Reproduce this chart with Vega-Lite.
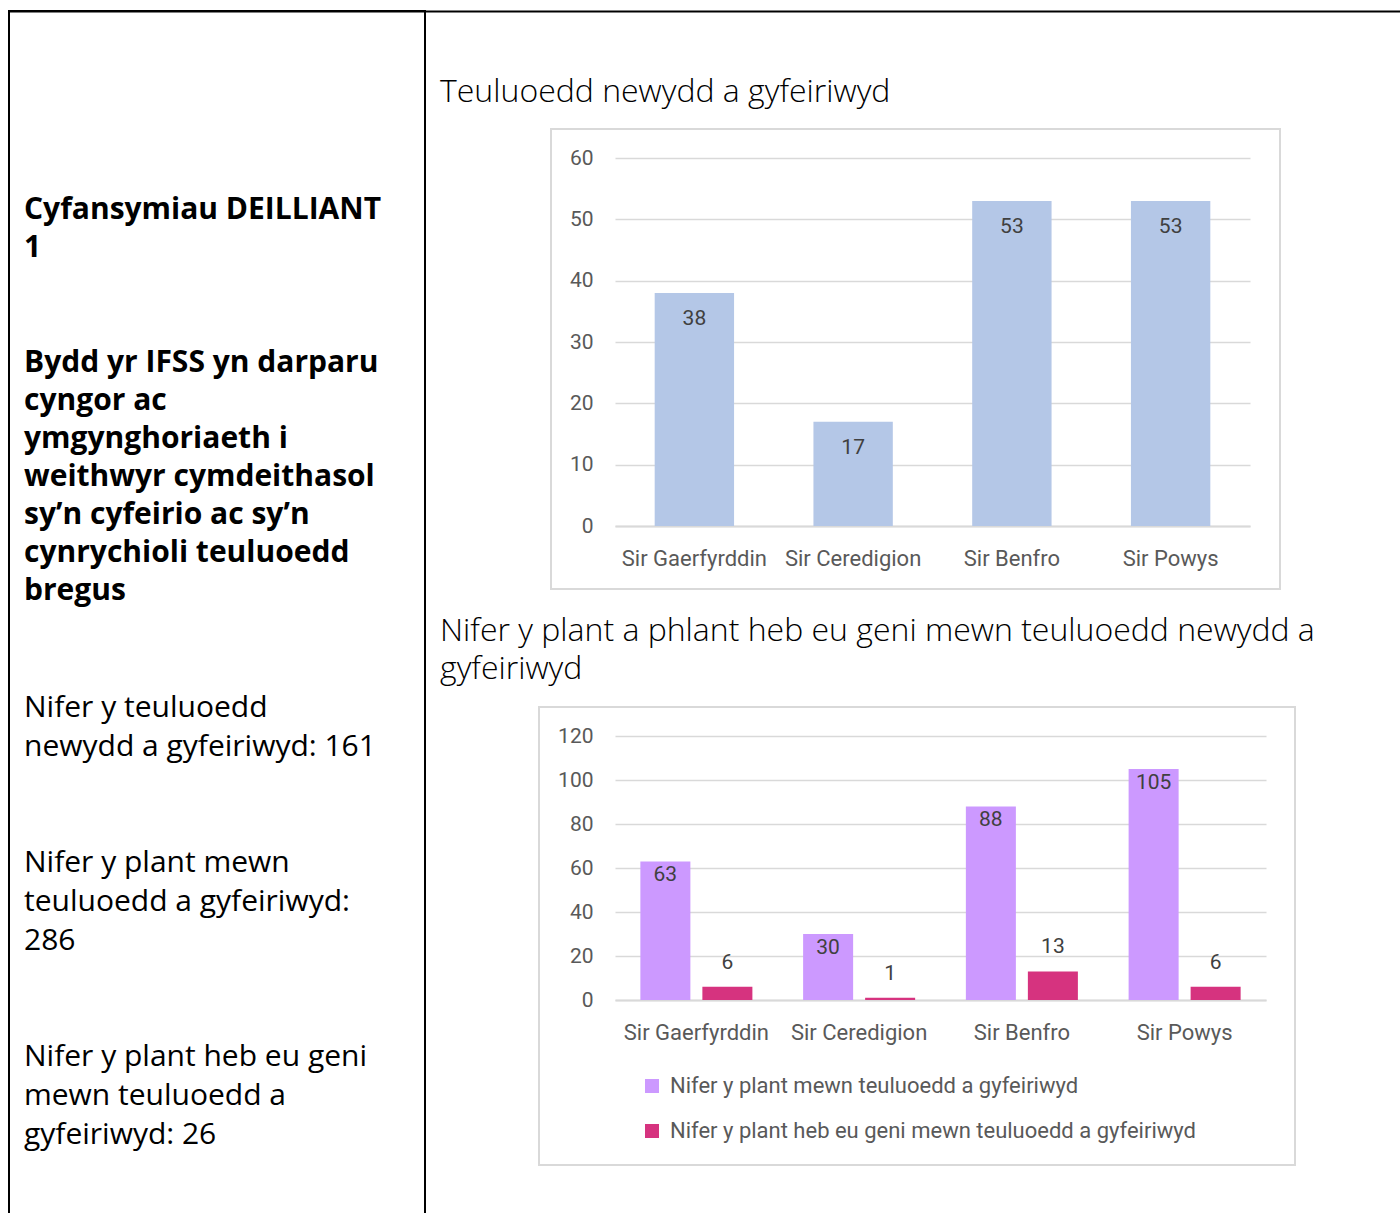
{
  "$schema": "https://vega.github.io/schema/vega-lite/v6.json",
  "padding": {"left": 8, "top": 10, "right": -1, "bottom": -2},
  "background": "white",
  "bounds": "flush",
  "spacing": 114,
  "config": {"view": {"stroke": null}},
  "hconcat": [
    {
      "width": 416,
      "height": 1203,
      "view": {"stroke": "black", "strokeWidth": 2},
      "title": {
        "text": ["Cyfansymiau DEILLIANT", "1", "\u2800", "\u2800", "Bydd yr IFSS yn darparu", "cyngor ac", "ymgynghoriaeth i", "weithwyr cymdeithasol", "sy’n cyfeirio ac sy’n", "cynrychioli teuluoedd", "bregus"],
        "subtitle": ["Nifer y teuluoedd", "newydd a gyfeiriwyd: 161", "\u2800", "\u2800", "Nifer y plant mewn", "teuluoedd a gyfeiriwyd:", "286", "\u2800", "\u2800", "Nifer y plant heb eu geni", "mewn teuluoedd a", "gyfeiriwyd: 26"],
        "anchor": "start",
        "frame": "group",
        "dx": 15,
        "dy": 1139,
        "offset": 0,
        "font": "Open Sans",
        "fontSize": 30,
        "fontWeight": "bold",
        "lineHeight": 38.1,
        "color": "black",
        "subtitleFont": "Open Sans",
        "subtitleFontSize": 30,
        "subtitleFontWeight": "normal",
        "subtitleLineHeight": 38.8,
        "subtitleColor": "black",
        "subtitlePadding": 87
      },
      "data": {"values": [{}]},
      "mark": {"type": "text"},
      "encoding": {
        "x": {
          "datum": 0,
          "type": "quantitative",
          "scale": {"domain": [0, 1], "range": [0, 1391]},
          "axis": {"orient": "top", "domainColor": "black", "domainWidth": 2, "labels": false, "ticks": false, "grid": false, "title": null}
        },
        "text": {"value": ""}
      }
    },
    {
      "spacing": 24,
      "vconcat": [
        {
          "width": 1,
          "height": 40,
          "data": {"values": []},
          "mark": {"type": "point"},
          "encoding": {}
        },
        {
          "bounds": "flush",
          "spacing": 0,
          "hconcat": [
            {
              "width": 12,
              "height": 1,
              "data": {"values": []},
              "mark": {"type": "point"},
              "encoding": {}
            },
            {
              "width": 729,
              "height": 460,
              "view": {"stroke": "#d9d9d9", "strokeWidth": 2},
              "title": {
                "text": "Teuluoedd newydd a gyfeiriwyd",
                "anchor": "start",
                "frame": "group",
                "dx": -111,
                "offset": 20,
                "font": "Open Sans",
                "fontSize": 32,
                "fontWeight": 300,
                "color": "black"
              },
              "data": {
                "values": [
                  {"sir": "Sir Gaerfyrddin", "teuluoedd": 38},
                  {"sir": "Sir Ceredigion", "teuluoedd": 17},
                  {"sir": "Sir Benfro", "teuluoedd": 53},
                  {"sir": "Sir Powys", "teuluoedd": 53}
                ]
              },
              "encoding": {
                "x": {
                  "field": "sir",
                  "type": "nominal",
                  "sort": null,
                  "scale": {"range": [64, 699], "paddingInner": 0.5, "paddingOuter": 0.25},
                  "axis": {"orient": "bottom", "offset": -63, "title": null, "labelAngle": 0, "ticks": false, "tickSize": 0, "domain": true, "domainColor": "#d9d9d9", "domainWidth": 2, "labelPadding": 22, "labelFont": "Roboto", "labelFontSize": 22, "labelColor": "#595959"}
                },
                "y": {
                  "field": "teuluoedd",
                  "type": "quantitative",
                  "scale": {"domain": [0, 60], "range": [397, 29], "nice": false},
                  "axis": {"orient": "left", "offset": -50, "values": [0, 10, 20, 30, 40, 50, 60], "title": null, "domain": false, "ticks": false, "tickSize": 0, "grid": true, "gridColor": "#d9d9d9", "gridWidth": 1.5, "labelPadding": 8, "labelFont": "Roboto", "labelFontSize": 21, "labelColor": "#595959"}
                }
              },
              "layer": [
                {"mark": {"type": "bar", "color": "#b4c7e7"}},
                {
                  "mark": {"type": "text", "baseline": "top", "dy": 15, "font": "Roboto", "fontSize": 21, "color": "#404040"},
                  "encoding": {"text": {"field": "teuluoedd", "type": "quantitative"}}
                }
              ]
            }
          ]
        },
        {
          "width": 756,
          "height": 458,
          "view": {"stroke": "#d9d9d9", "strokeWidth": 2},
          "title": {
            "text": ["Nifer y plant a phlant heb eu geni mewn teuluoedd newydd a", "gyfeiriwyd"],
            "anchor": "start",
            "frame": "group",
            "dx": -99,
            "offset": 21,
            "font": "Open Sans",
            "fontSize": 32,
            "fontWeight": 300,
            "lineHeight": 38,
            "color": "black"
          },
          "data": {
            "values": [
              {"sir": "Sir Gaerfyrddin", "cyfres": "Nifer y plant mewn teuluoedd a gyfeiriwyd", "nifer": 63},
              {"sir": "Sir Gaerfyrddin", "cyfres": "Nifer y plant heb eu geni mewn teuluoedd a gyfeiriwyd", "nifer": 6},
              {"sir": "Sir Ceredigion", "cyfres": "Nifer y plant mewn teuluoedd a gyfeiriwyd", "nifer": 30},
              {"sir": "Sir Ceredigion", "cyfres": "Nifer y plant heb eu geni mewn teuluoedd a gyfeiriwyd", "nifer": 1},
              {"sir": "Sir Benfro", "cyfres": "Nifer y plant mewn teuluoedd a gyfeiriwyd", "nifer": 88},
              {"sir": "Sir Benfro", "cyfres": "Nifer y plant heb eu geni mewn teuluoedd a gyfeiriwyd", "nifer": 13},
              {"sir": "Sir Powys", "cyfres": "Nifer y plant mewn teuluoedd a gyfeiriwyd", "nifer": 105},
              {"sir": "Sir Powys", "cyfres": "Nifer y plant heb eu geni mewn teuluoedd a gyfeiriwyd", "nifer": 6}
            ]
          },
          "encoding": {
            "x": {
              "field": "sir",
              "type": "nominal",
              "sort": null,
              "scale": {"range": [76, 727], "paddingInner": 0, "paddingOuter": 0},
              "axis": {"orient": "bottom", "offset": -165, "title": null, "labelAngle": 0, "ticks": false, "tickSize": 0, "domain": true, "domainColor": "#d9d9d9", "domainWidth": 2, "labelPadding": 22, "labelFont": "Roboto", "labelFontSize": 22, "labelColor": "#595959"}
            },
            "xOffset": {
              "field": "cyfres",
              "type": "nominal",
              "sort": null,
              "scale": {"paddingInner": 0.1935, "paddingOuter": 0.409}
            },
            "y": {
              "field": "nifer",
              "type": "quantitative",
              "scale": {"domain": [0, 120], "range": [293, 29], "nice": false},
              "axis": {"orient": "left", "offset": -62, "values": [0, 20, 40, 60, 80, 100, 120], "title": null, "domain": false, "ticks": false, "tickSize": 0, "grid": true, "gridColor": "#d9d9d9", "gridWidth": 1.5, "labelPadding": 8, "labelFont": "Roboto", "labelFontSize": 21, "labelColor": "#595959"}
            }
          },
          "layer": [
            {
              "mark": {"type": "bar"},
              "encoding": {
                "color": {
                  "field": "cyfres",
                  "type": "nominal",
                  "sort": null,
                  "scale": {"range": ["#cc99ff", "#d6337f"]},
                  "legend": {"orient": "none", "legendX": 632, "legendY": 1064, "direction": "vertical", "title": null, "symbolType": "square", "symbolSize": 196, "symbolStrokeWidth": 0, "symbolOpacity": 1, "labelFont": "Roboto", "labelFontSize": 22, "labelColor": "#595959", "labelLimit": 0, "rowPadding": 23, "labelOffset": 7}
                }
              }
            },
            {
              "transform": [{"filter": "datum.cyfres === 'Nifer y plant mewn teuluoedd a gyfeiriwyd'"}],
              "mark": {"type": "text", "baseline": "top", "dy": 3, "font": "Roboto", "fontSize": 21, "color": "#404040"},
              "encoding": {"text": {"field": "nifer", "type": "quantitative"}}
            },
            {
              "transform": [{"filter": "datum.cyfres !== 'Nifer y plant mewn teuluoedd a gyfeiriwyd'"}],
              "mark": {"type": "text", "baseline": "bottom", "dy": -14, "font": "Roboto", "fontSize": 21, "color": "#404040"},
              "encoding": {"text": {"field": "nifer", "type": "quantitative"}}
            }
          ]
        }
      ]
    }
  ]
}
